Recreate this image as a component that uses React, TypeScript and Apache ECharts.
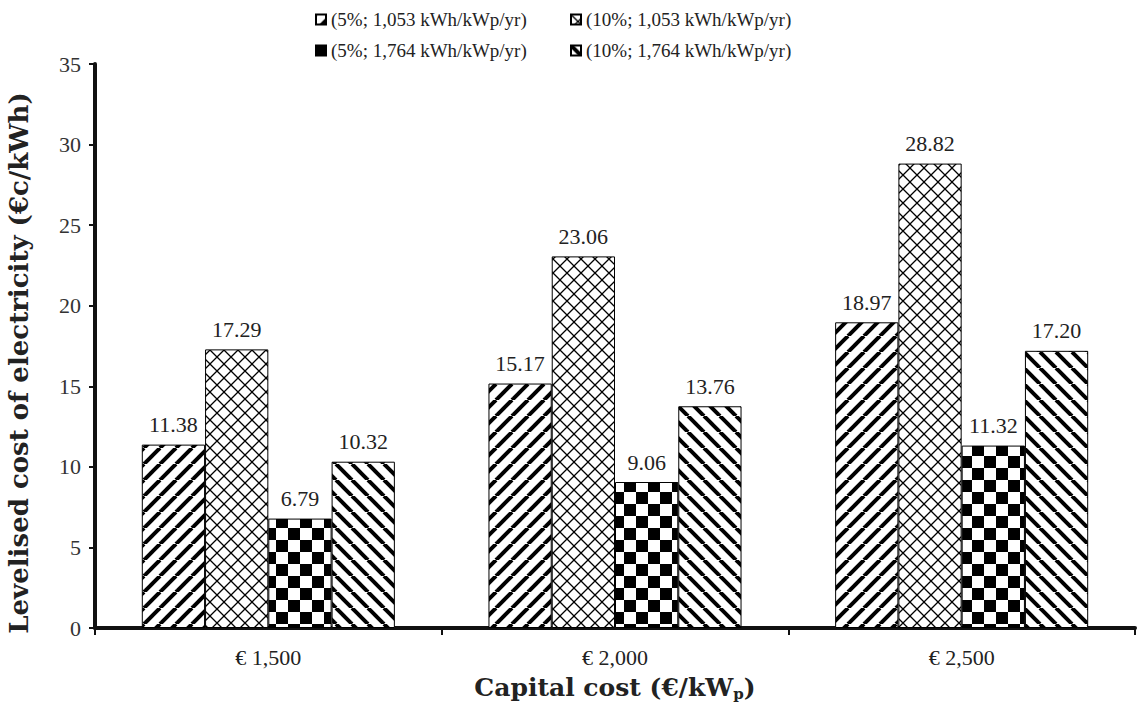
import { useEffect, useRef } from "react";
import * as echarts from "echarts";

// Capital cost scenarios on the category axis
const categories = ["€ 1,500", "€ 2,000", "€ 2,500"];

// Scenario names: (discount rate; annual yield)
const seriesNames = [
  "(5%; 1,053 kWh/kWp/yr)",
  "(10%; 1,053 kWh/kWp/yr)",
  "(5%; 1,764 kWh/kWp/yr)",
  "(10%; 1,764 kWh/kWp/yr)",
];

// Levelised cost of electricity, €c/kWh
const lowRateLowYield = [11.38, 15.17, 18.97];
const highRateLowYield = [17.29, 23.06, 28.82];
const lowRateHighYield = [6.79, 9.06, 11.32];
const highRateHighYield = [10.32, 13.76, 17.2];

const yMin = 0;
const yMax = 35;
const yStep = 5;

const FONT = "Liberation Serif";
const TITLE_FONT = "DejaVu Serif";

function makeTile(size: number, draw: (ctx: CanvasRenderingContext2D, s: number) => void) {
  const c = document.createElement("canvas");
  c.width = size;
  c.height = size;
  const ctx = c.getContext("2d")!;
  ctx.fillStyle = "#fff";
  ctx.fillRect(0, 0, size, size);
  ctx.fillStyle = "#000";
  ctx.strokeStyle = "#000";
  draw(ctx, size);
  return c;
}

// "/" stripes
function stripesUp() {
  return makeTile(16, (ctx, s) => {
    ctx.lineWidth = 4;
    for (let k = -1; k <= 1; k++) {
      ctx.beginPath();
      ctx.moveTo(k * s, s);
      ctx.lineTo(k * s + s, 0);
      ctx.stroke();
    }
  });
}

// "\" stripes
function stripesDown() {
  return makeTile(16, (ctx, s) => {
    ctx.lineWidth = 4;
    for (let k = -1; k <= 1; k++) {
      ctx.beginPath();
      ctx.moveTo(k * s, 0);
      ctx.lineTo(k * s + s, s);
      ctx.stroke();
    }
  });
}

// thin diamond lattice
function lattice() {
  return makeTile(14, (ctx, s) => {
    ctx.lineWidth = 1.3;
    ctx.beginPath();
    ctx.moveTo(0, 0);
    ctx.lineTo(s, s);
    ctx.moveTo(0, s);
    ctx.lineTo(s, 0);
    ctx.stroke();
  });
}

// checkerboard
function checker() {
  return makeTile(24, (ctx, s) => {
    const h = s / 2;
    ctx.fillRect(0, 0, h, h);
    ctx.fillRect(h, h, h, h);
  });
}

export default function App() {
  const ref = useRef<HTMLDivElement>(null);

  useEffect(() => {
    if (!ref.current) return;
    const chart = echarts.init(ref.current, undefined, { renderer: "svg" });

    const fills = [stripesUp(), lattice(), checker(), stripesDown()];
    const values = [lowRateLowYield, highRateLowYield, lowRateHighYield, highRateHighYield];

    const series = values.map((data, i) => ({
      name: seriesNames[i],
      type: "bar" as const,
      data,
      barGap: "0%",
      barCategoryGap: "27%",
      itemStyle: {
        color: { image: fills[i], repeat: "repeat" } as any,
        borderColor: "#000",
        borderWidth: 1,
      },
      label: {
        show: true,
        position: "top" as const,
        distance: 9,
        fontFamily: FONT,
        fontSize: 22,
        color: "#222",
        formatter: (p: any) => Number(p.value).toFixed(2),
      },
    }));

    const legendText = { fontFamily: FONT, fontSize: 19, color: "#222" };

    chart.setOption({
      animation: false,
      backgroundColor: "#fff",
      legend: [
        {
          orient: "vertical",
          left: 310,
          top: 5,
          itemWidth: 10,
          itemHeight: 10,
          itemGap: 12,
          icon: "rect",
          textStyle: legendText,
          data: [seriesNames[0], seriesNames[2]],
        },
        {
          orient: "vertical",
          left: 565,
          top: 5,
          itemWidth: 10,
          itemHeight: 10,
          itemGap: 12,
          icon: "rect",
          textStyle: legendText,
          data: [seriesNames[1], seriesNames[3]],
        },
      ],
      grid: { left: 95, right: 2, top: 64, bottom: 84, containLabel: false, outerBoundsMode: "none" },
      xAxis: {
        type: "category",
        data: categories,
        name: "{t|Capital cost (€/kW}{s|p}{t|)}",
        nameLocation: "middle",
        nameGap: 46,
        nameTextStyle: {
          rich: {
            t: { fontFamily: TITLE_FONT, fontSize: 25, fontWeight: "bold", color: "#222" },
            s: {
              fontFamily: TITLE_FONT,
              fontSize: 15,
              fontWeight: "bold",
              color: "#222",
              verticalAlign: "bottom",
              padding: [12, 0, 0, 0],
            },
          },
        },
        axisLine: { lineStyle: { color: "#111", width: 4 } },
        axisTick: { show: true, length: 7, lineStyle: { color: "#111", width: 2 } },
        axisLabel: { fontFamily: FONT, fontSize: 22, color: "#222", margin: 18 },
      },
      yAxis: {
        type: "value",
        min: yMin,
        max: yMax,
        interval: yStep,
        name: "Levelised cost of electricity (€c/kWh)",
        nameLocation: "middle",
        nameGap: 63,
        nameTextStyle: {
          fontFamily: TITLE_FONT,
          fontSize: 26,
          fontWeight: "bold",
          color: "#222",
          padding: [0, 34, 0, 0],
        },
        axisLine: { show: true, lineStyle: { color: "#111", width: 4 } },
        axisTick: { show: true, length: 6, lineStyle: { color: "#111", width: 2 } },
        axisLabel: { fontFamily: FONT, fontSize: 22, color: "#333", margin: 14 },
        splitLine: { show: false },
      },
      series,
    });

    return () => chart.dispose();
  }, []);

  return <div ref={ref} style={{ width: 1137, height: 712, position: "absolute", left: 0, top: 0 }} />;
}
